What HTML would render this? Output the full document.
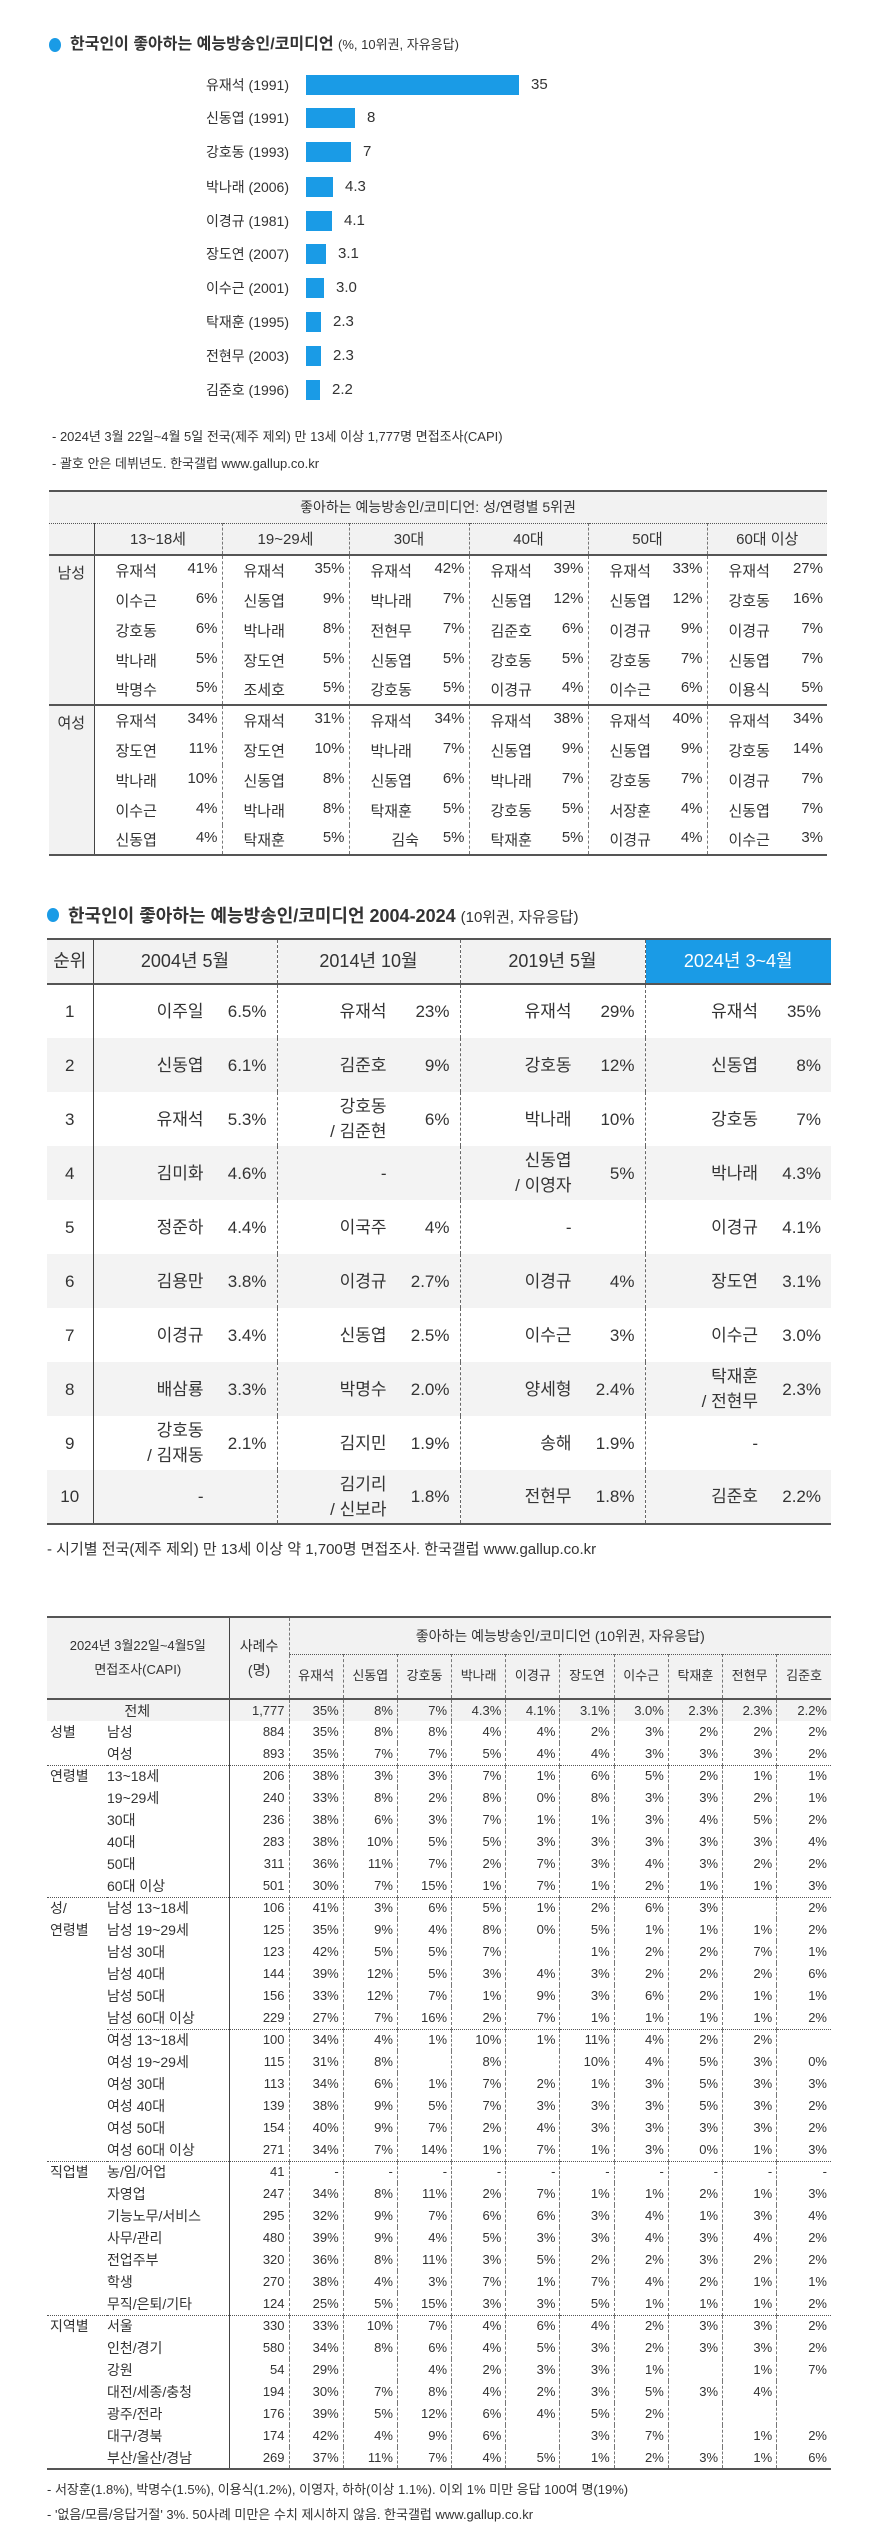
<!DOCTYPE html>
<html><head><meta charset="utf-8">
<style>
*{margin:0;padding:0;box-sizing:border-box}
body{width:876px;height:2547px;background:#fff;position:relative;font-family:"Liberation Sans","Noto Sans CJK KR",sans-serif;color:#333;overflow:hidden}
.a{position:absolute;white-space:nowrap}
.dot{position:absolute;width:12px;height:14px;border-radius:50%;background:#1a9be6}
.lbl{position:absolute;right:587px;font-size:14px;line-height:20px;text-align:right}
.bar{position:absolute;left:306px;height:20px;background:#1a9be6}
.val{position:absolute;font-size:15px;line-height:20px}
table{border-collapse:collapse;table-layout:fixed;position:absolute}
td{padding:0;white-space:nowrap}
/* table1 */
#t1{left:49px;top:490px;width:778px;font-size:15px;border-top:2px solid #555;border-bottom:2px solid #555}
#t1 td{border-left:1px dashed #777}
#t1 td.g{border-left:none;background:#f2f2f2;text-align:center;vertical-align:top;padding-top:6px}
#t1 tr.h td{background:#f2f2f2;text-align:center;height:32px;border-bottom:2px solid #555}
#t1 tr.ttl td{background:#f2f2f2;text-align:center;height:32px;font-size:14px;border-bottom:1px dotted #555;border-left:none}
#t1 td.c{height:30px}
#t1 td.c div{display:flex;justify-content:space-between;padding:0 4px 0 21px}
#t1 tr.sep td{border-top:2px solid #555}
#t1 td.f{border-left:1.5px solid #444}
/* table2 */
#t2{left:47px;top:938px;width:784px;font-size:17px;line-height:25px;border-top:2px solid #555;border-bottom:2px solid #555}
#t2 tr{height:54px}
#t2 td{border-left:1px dashed #666;height:54px;overflow:hidden}
#t2 td:first-child{border-left:none;text-align:center;width:46px}
#t2 td:nth-child(2){border-left:1.5px solid #444}
#t2 tr.h{height:45px}
#t2 tr.h td{background:#f2f2f2;height:45px;text-align:center;border-bottom:2px solid #555;font-size:18px}
#t2 tr.h td.b{background:#1a9be6;color:#fff}
#t2 tr.z td{background:#f3f3f3}
#t2 .n{display:flex;align-items:center}
#t2 .n span:first-child{flex:1;text-align:right;line-height:25px}
#t2 .n span:last-child{width:73px;text-align:right;padding-right:10px}
/* table3 */
#t3{left:47px;top:1616px;width:784px;font-size:13px;line-height:18px;border-top:2px solid #555;border-bottom:2px solid #555}
#t3 tr{height:22px}
#t3 td{height:22px;text-align:right;padding-right:4px;border-left:1px dashed #777}
#t3 td.gl{border-left:none;text-align:left;padding-left:3px;font-size:14px}
#t3 td.sl{border-left:none;text-align:left;padding-left:0;font-size:14px}
#t3 td.n{border-left:1.5px solid #444}
#t3 tr.hd td{background:#f2f2f2;text-align:center;padding:0}
#t3 tr.tot td{background:#f2f2f2;height:22px}
#t3 tr.s td{border-bottom:1px dotted #555}
#t3 tr.s2 td.x{border-bottom:1px dotted #555}
.note{font-size:13px}
</style></head><body>

<div class="dot" style="left:49px;top:38px"></div>
<div class="a" style="left:70px;top:35px;font-size:16px;line-height:20px"><b>한국인이 좋아하는 예능방송인/코미디언</b> <span style="font-size:13px">(%, 10위권, 자유응답)</span></div>

<div class="lbl" style="top:75px">유재석 (1991)</div><div class="bar" style="top:75px;width:213px"></div><div class="val" style="left:531px;top:75px">35</div>
<div class="lbl" style="top:108px">신동엽 (1991)</div><div class="bar" style="top:108px;width:49px"></div><div class="val" style="left:367px;top:108px">8</div>
<div class="lbl" style="top:142px">강호동 (1993)</div><div class="bar" style="top:142px;width:45px"></div><div class="val" style="left:363px;top:142px">7</div>
<div class="lbl" style="top:177px">박나래 (2006)</div><div class="bar" style="top:177px;width:27px"></div><div class="val" style="left:345px;top:177px">4.3</div>
<div class="lbl" style="top:211px">이경규 (1981)</div><div class="bar" style="top:211px;width:26px"></div><div class="val" style="left:344px;top:211px">4.1</div>
<div class="lbl" style="top:244px">장도연 (2007)</div><div class="bar" style="top:244px;width:20px"></div><div class="val" style="left:338px;top:244px">3.1</div>
<div class="lbl" style="top:278px">이수근 (2001)</div><div class="bar" style="top:278px;width:18px"></div><div class="val" style="left:336px;top:278px">3.0</div>
<div class="lbl" style="top:312px">탁재훈 (1995)</div><div class="bar" style="top:312px;width:15px"></div><div class="val" style="left:333px;top:312px">2.3</div>
<div class="lbl" style="top:346px">전현무 (2003)</div><div class="bar" style="top:346px;width:15px"></div><div class="val" style="left:333px;top:346px">2.3</div>
<div class="lbl" style="top:380px">김준호 (1996)</div><div class="bar" style="top:380px;width:14px"></div><div class="val" style="left:332px;top:380px">2.2</div>

<div class="a note" style="left:52px;top:426px">- 2024년 3월 22일~4월 5일 전국(제주 제외) 만 13세 이상 1,777명 면접조사(CAPI)</div>
<div class="a note" style="left:52px;top:453px">- 괄호 안은 데뷔년도. 한국갤럽 www.gallup.co.kr</div>

<table id="t1">
<colgroup><col style="width:45px"><col style="width:128px"><col style="width:127px"><col style="width:120px"><col style="width:119px"><col style="width:119px"><col style="width:120px"></colgroup>
<tr class="ttl"><td colspan="7">좋아하는 예능방송인/코미디언: 성/연령별 5위권</td></tr>
<tr class="h"><td style="border-left:none"></td><td class="f">13~18세</td><td>19~29세</td><td>30대</td><td>40대</td><td>50대</td><td>60대 이상</td></tr>
<tr><td class="g" rowspan="5">남성</td><td class="c f"><div><span>유재석</span><span>41%</span></div></td><td class="c"><div><span>유재석</span><span>35%</span></div></td><td class="c"><div><span>유재석</span><span>42%</span></div></td><td class="c"><div><span>유재석</span><span>39%</span></div></td><td class="c"><div><span>유재석</span><span>33%</span></div></td><td class="c"><div><span>유재석</span><span>27%</span></div></td></tr>
<tr><td class="c f"><div><span>이수근</span><span>6%</span></div></td><td class="c"><div><span>신동엽</span><span>9%</span></div></td><td class="c"><div><span>박나래</span><span>7%</span></div></td><td class="c"><div><span>신동엽</span><span>12%</span></div></td><td class="c"><div><span>신동엽</span><span>12%</span></div></td><td class="c"><div><span>강호동</span><span>16%</span></div></td></tr>
<tr><td class="c f"><div><span>강호동</span><span>6%</span></div></td><td class="c"><div><span>박나래</span><span>8%</span></div></td><td class="c"><div><span>전현무</span><span>7%</span></div></td><td class="c"><div><span>김준호</span><span>6%</span></div></td><td class="c"><div><span>이경규</span><span>9%</span></div></td><td class="c"><div><span>이경규</span><span>7%</span></div></td></tr>
<tr><td class="c f"><div><span>박나래</span><span>5%</span></div></td><td class="c"><div><span>장도연</span><span>5%</span></div></td><td class="c"><div><span>신동엽</span><span>5%</span></div></td><td class="c"><div><span>강호동</span><span>5%</span></div></td><td class="c"><div><span>강호동</span><span>7%</span></div></td><td class="c"><div><span>신동엽</span><span>7%</span></div></td></tr>
<tr><td class="c f"><div><span>박명수</span><span>5%</span></div></td><td class="c"><div><span>조세호</span><span>5%</span></div></td><td class="c"><div><span>강호동</span><span>5%</span></div></td><td class="c"><div><span>이경규</span><span>4%</span></div></td><td class="c"><div><span>이수근</span><span>6%</span></div></td><td class="c"><div><span>이용식</span><span>5%</span></div></td></tr>
<tr class="sep"><td class="g" rowspan="5">여성</td><td class="c f"><div><span>유재석</span><span>34%</span></div></td><td class="c"><div><span>유재석</span><span>31%</span></div></td><td class="c"><div><span>유재석</span><span>34%</span></div></td><td class="c"><div><span>유재석</span><span>38%</span></div></td><td class="c"><div><span>유재석</span><span>40%</span></div></td><td class="c"><div><span>유재석</span><span>34%</span></div></td></tr>
<tr><td class="c f"><div><span>장도연</span><span>11%</span></div></td><td class="c"><div><span>장도연</span><span>10%</span></div></td><td class="c"><div><span>박나래</span><span>7%</span></div></td><td class="c"><div><span>신동엽</span><span>9%</span></div></td><td class="c"><div><span>신동엽</span><span>9%</span></div></td><td class="c"><div><span>강호동</span><span>14%</span></div></td></tr>
<tr><td class="c f"><div><span>박나래</span><span>10%</span></div></td><td class="c"><div><span>신동엽</span><span>8%</span></div></td><td class="c"><div><span>신동엽</span><span>6%</span></div></td><td class="c"><div><span>박나래</span><span>7%</span></div></td><td class="c"><div><span>강호동</span><span>7%</span></div></td><td class="c"><div><span>이경규</span><span>7%</span></div></td></tr>
<tr><td class="c f"><div><span>이수근</span><span>4%</span></div></td><td class="c"><div><span>박나래</span><span>8%</span></div></td><td class="c"><div><span>탁재훈</span><span>5%</span></div></td><td class="c"><div><span>강호동</span><span>5%</span></div></td><td class="c"><div><span>서장훈</span><span>4%</span></div></td><td class="c"><div><span>신동엽</span><span>7%</span></div></td></tr>
<tr><td class="c f"><div><span>신동엽</span><span>4%</span></div></td><td class="c"><div><span>탁재훈</span><span>5%</span></div></td><td class="c"><div><span>&nbsp;&nbsp;&nbsp;&nbsp;&nbsp;김숙</span><span>5%</span></div></td><td class="c"><div><span>탁재훈</span><span>5%</span></div></td><td class="c"><div><span>이경규</span><span>4%</span></div></td><td class="c"><div><span>이수근</span><span>3%</span></div></td></tr>
</table>

<div class="dot" style="left:47px;top:908px"></div>
<div class="a" style="left:68px;top:904px;font-size:18px;line-height:24px"><b>한국인이 좋아하는 예능방송인/코미디언 2004-2024</b> <span style="font-size:15px">(10위권, 자유응답)</span></div>

<table id="t2">
<colgroup><col style="width:46px"><col style="width:184px"><col style="width:183px"><col style="width:185px"><col style="width:186px"></colgroup>
<tr class="h"><td>순위</td><td>2004년 5월</td><td>2014년 10월</td><td>2019년 5월</td><td class="b">2024년 3~4월</td></tr>
<tr><td>1</td><td><div class="n"><span>이주일</span><span>6.5%</span></div></td><td><div class="n"><span>유재석</span><span>23%</span></div></td><td><div class="n"><span>유재석</span><span>29%</span></div></td><td><div class="n"><span>유재석</span><span>35%</span></div></td></tr>
<tr class="z"><td>2</td><td><div class="n"><span>신동엽</span><span>6.1%</span></div></td><td><div class="n"><span>김준호</span><span>9%</span></div></td><td><div class="n"><span>강호동</span><span>12%</span></div></td><td><div class="n"><span>신동엽</span><span>8%</span></div></td></tr>
<tr><td>3</td><td><div class="n"><span>유재석</span><span>5.3%</span></div></td><td><div class="n"><span>강호동<br>/ 김준현</span><span>6%</span></div></td><td><div class="n"><span>박나래</span><span>10%</span></div></td><td><div class="n"><span>강호동</span><span>7%</span></div></td></tr>
<tr class="z"><td>4</td><td><div class="n"><span>김미화</span><span>4.6%</span></div></td><td><div class="n"><span>-</span><span></span></div></td><td><div class="n"><span>신동엽<br>/ 이영자</span><span>5%</span></div></td><td><div class="n"><span>박나래</span><span>4.3%</span></div></td></tr>
<tr><td>5</td><td><div class="n"><span>정준하</span><span>4.4%</span></div></td><td><div class="n"><span>이국주</span><span>4%</span></div></td><td><div class="n"><span>-</span><span></span></div></td><td><div class="n"><span>이경규</span><span>4.1%</span></div></td></tr>
<tr class="z"><td>6</td><td><div class="n"><span>김용만</span><span>3.8%</span></div></td><td><div class="n"><span>이경규</span><span>2.7%</span></div></td><td><div class="n"><span>이경규</span><span>4%</span></div></td><td><div class="n"><span>장도연</span><span>3.1%</span></div></td></tr>
<tr><td>7</td><td><div class="n"><span>이경규</span><span>3.4%</span></div></td><td><div class="n"><span>신동엽</span><span>2.5%</span></div></td><td><div class="n"><span>이수근</span><span>3%</span></div></td><td><div class="n"><span>이수근</span><span>3.0%</span></div></td></tr>
<tr class="z"><td>8</td><td><div class="n"><span>배삼룡</span><span>3.3%</span></div></td><td><div class="n"><span>박명수</span><span>2.0%</span></div></td><td><div class="n"><span>양세형</span><span>2.4%</span></div></td><td><div class="n"><span>탁재훈<br>/ 전현무</span><span>2.3%</span></div></td></tr>
<tr><td>9</td><td><div class="n"><span>강호동<br>/ 김재동</span><span>2.1%</span></div></td><td><div class="n"><span>김지민</span><span>1.9%</span></div></td><td><div class="n"><span>송해</span><span>1.9%</span></div></td><td><div class="n"><span>-</span><span></span></div></td></tr>
<tr class="z"><td>10</td><td><div class="n"><span>-</span><span></span></div></td><td><div class="n"><span>김기리<br>/ 신보라</span><span>1.8%</span></div></td><td><div class="n"><span>전현무</span><span>1.8%</span></div></td><td><div class="n"><span>김준호</span><span>2.2%</span></div></td></tr>
</table>

<div class="a" style="left:47px;top:1538px;font-size:15px">- 시기별 전국(제주 제외) 만 13세 이상 약 1,700명 면접조사. 한국갤럽 www.gallup.co.kr</div>

<table id="t3">
<colgroup><col style="width:60px"><col style="width:122px"><col style="width:60px"><col span="10" style="width:54.2px"></colgroup>
<tr class="hd" style="height:37px"><td colspan="2" rowspan="2" class="gl" style="text-align:center;padding:0;line-height:24px;border-bottom:2px solid #555;font-size:13px">2024년 3월22일~4월5일<br>면접조사(CAPI)</td><td rowspan="2" class="n" style="line-height:24px;border-bottom:2px solid #555;font-size:14px">사례수<br>(명)</td><td colspan="10" style="height:37px;border-bottom:1px dotted #555;font-size:14px">좋아하는 예능방송인/코미디언 (10위권, 자유응답)</td></tr>
<tr class="hd" style="border-bottom:2px solid #555;height:45px"><td style="height:45px">유재석</td><td>신동엽</td><td>강호동</td><td>박나래</td><td>이경규</td><td>장도연</td><td>이수근</td><td>탁재훈</td><td>전현무</td><td>김준호</td></tr>
<tr class="tot"><td colspan="2" class="gl" style="text-align:center">전체</td><td class="n">1,777</td><td>35%</td><td>8%</td><td>7%</td><td>4.3%</td><td>4.1%</td><td>3.1%</td><td>3.0%</td><td>2.3%</td><td>2.3%</td><td>2.2%</td></tr>
<tr><td class="gl">성별</td><td class="sl">남성</td><td class="n">884</td><td>35%</td><td>8%</td><td>8%</td><td>4%</td><td>4%</td><td>2%</td><td>3%</td><td>2%</td><td>2%</td><td>2%</td></tr>
<tr class="s"><td class="gl"></td><td class="sl">여성</td><td class="n">893</td><td>35%</td><td>7%</td><td>7%</td><td>5%</td><td>4%</td><td>4%</td><td>3%</td><td>3%</td><td>3%</td><td>2%</td></tr>
<tr><td class="gl">연령별</td><td class="sl">13~18세</td><td class="n">206</td><td>38%</td><td>3%</td><td>3%</td><td>7%</td><td>1%</td><td>6%</td><td>5%</td><td>2%</td><td>1%</td><td>1%</td></tr>
<tr><td class="gl"></td><td class="sl">19~29세</td><td class="n">240</td><td>33%</td><td>8%</td><td>2%</td><td>8%</td><td>0%</td><td>8%</td><td>3%</td><td>3%</td><td>2%</td><td>1%</td></tr>
<tr><td class="gl"></td><td class="sl">30대</td><td class="n">236</td><td>38%</td><td>6%</td><td>3%</td><td>7%</td><td>1%</td><td>1%</td><td>3%</td><td>4%</td><td>5%</td><td>2%</td></tr>
<tr><td class="gl"></td><td class="sl">40대</td><td class="n">283</td><td>38%</td><td>10%</td><td>5%</td><td>5%</td><td>3%</td><td>3%</td><td>3%</td><td>3%</td><td>3%</td><td>4%</td></tr>
<tr><td class="gl"></td><td class="sl">50대</td><td class="n">311</td><td>36%</td><td>11%</td><td>7%</td><td>2%</td><td>7%</td><td>3%</td><td>4%</td><td>3%</td><td>2%</td><td>2%</td></tr>
<tr class="s"><td class="gl"></td><td class="sl">60대 이상</td><td class="n">501</td><td>30%</td><td>7%</td><td>15%</td><td>1%</td><td>7%</td><td>1%</td><td>2%</td><td>1%</td><td>1%</td><td>3%</td></tr>
<tr><td class="gl">성/</td><td class="sl">남성 13~18세</td><td class="n">106</td><td>41%</td><td>3%</td><td>6%</td><td>5%</td><td>1%</td><td>2%</td><td>6%</td><td>3%</td><td></td><td>2%</td></tr>
<tr><td class="gl">연령별</td><td class="sl">남성 19~29세</td><td class="n">125</td><td>35%</td><td>9%</td><td>4%</td><td>8%</td><td>0%</td><td>5%</td><td>1%</td><td>1%</td><td>1%</td><td>2%</td></tr>
<tr><td class="gl"></td><td class="sl">남성 30대</td><td class="n">123</td><td>42%</td><td>5%</td><td>5%</td><td>7%</td><td></td><td>1%</td><td>2%</td><td>2%</td><td>7%</td><td>1%</td></tr>
<tr><td class="gl"></td><td class="sl">남성 40대</td><td class="n">144</td><td>39%</td><td>12%</td><td>5%</td><td>3%</td><td>4%</td><td>3%</td><td>2%</td><td>2%</td><td>2%</td><td>6%</td></tr>
<tr><td class="gl"></td><td class="sl">남성 50대</td><td class="n">156</td><td>33%</td><td>12%</td><td>7%</td><td>1%</td><td>9%</td><td>3%</td><td>6%</td><td>2%</td><td>1%</td><td>1%</td></tr>
<tr class="s2"><td class="gl"></td><td class="sl x">남성 60대 이상</td><td class="n x">229</td><td class="x">27%</td><td class="x">7%</td><td class="x">16%</td><td class="x">2%</td><td class="x">7%</td><td class="x">1%</td><td class="x">1%</td><td class="x">1%</td><td class="x">1%</td><td class="x">2%</td></tr>
<tr><td class="gl"></td><td class="sl">여성 13~18세</td><td class="n">100</td><td>34%</td><td>4%</td><td>1%</td><td>10%</td><td>1%</td><td>11%</td><td>4%</td><td>2%</td><td>2%</td><td></td></tr>
<tr><td class="gl"></td><td class="sl">여성 19~29세</td><td class="n">115</td><td>31%</td><td>8%</td><td></td><td>8%</td><td></td><td>10%</td><td>4%</td><td>5%</td><td>3%</td><td>0%</td></tr>
<tr><td class="gl"></td><td class="sl">여성 30대</td><td class="n">113</td><td>34%</td><td>6%</td><td>1%</td><td>7%</td><td>2%</td><td>1%</td><td>3%</td><td>5%</td><td>3%</td><td>3%</td></tr>
<tr><td class="gl"></td><td class="sl">여성 40대</td><td class="n">139</td><td>38%</td><td>9%</td><td>5%</td><td>7%</td><td>3%</td><td>3%</td><td>3%</td><td>5%</td><td>3%</td><td>2%</td></tr>
<tr><td class="gl"></td><td class="sl">여성 50대</td><td class="n">154</td><td>40%</td><td>9%</td><td>7%</td><td>2%</td><td>4%</td><td>3%</td><td>3%</td><td>3%</td><td>3%</td><td>2%</td></tr>
<tr class="s"><td class="gl"></td><td class="sl">여성 60대 이상</td><td class="n">271</td><td>34%</td><td>7%</td><td>14%</td><td>1%</td><td>7%</td><td>1%</td><td>3%</td><td>0%</td><td>1%</td><td>3%</td></tr>
<tr><td class="gl">직업별</td><td class="sl">농/임/어업</td><td class="n">41</td><td>-</td><td>-</td><td>-</td><td>-</td><td>-</td><td>-</td><td>-</td><td>-</td><td>-</td><td>-</td></tr>
<tr><td class="gl"></td><td class="sl">자영업</td><td class="n">247</td><td>34%</td><td>8%</td><td>11%</td><td>2%</td><td>7%</td><td>1%</td><td>1%</td><td>2%</td><td>1%</td><td>3%</td></tr>
<tr><td class="gl"></td><td class="sl">기능노무/서비스</td><td class="n">295</td><td>32%</td><td>9%</td><td>7%</td><td>6%</td><td>6%</td><td>3%</td><td>4%</td><td>1%</td><td>3%</td><td>4%</td></tr>
<tr><td class="gl"></td><td class="sl">사무/관리</td><td class="n">480</td><td>39%</td><td>9%</td><td>4%</td><td>5%</td><td>3%</td><td>3%</td><td>4%</td><td>3%</td><td>4%</td><td>2%</td></tr>
<tr><td class="gl"></td><td class="sl">전업주부</td><td class="n">320</td><td>36%</td><td>8%</td><td>11%</td><td>3%</td><td>5%</td><td>2%</td><td>2%</td><td>3%</td><td>2%</td><td>2%</td></tr>
<tr><td class="gl"></td><td class="sl">학생</td><td class="n">270</td><td>38%</td><td>4%</td><td>3%</td><td>7%</td><td>1%</td><td>7%</td><td>4%</td><td>2%</td><td>1%</td><td>1%</td></tr>
<tr class="s"><td class="gl"></td><td class="sl">무직/은퇴/기타</td><td class="n">124</td><td>25%</td><td>5%</td><td>15%</td><td>3%</td><td>3%</td><td>5%</td><td>1%</td><td>1%</td><td>1%</td><td>2%</td></tr>
<tr><td class="gl">지역별</td><td class="sl">서울</td><td class="n">330</td><td>33%</td><td>10%</td><td>7%</td><td>4%</td><td>6%</td><td>4%</td><td>2%</td><td>3%</td><td>3%</td><td>2%</td></tr>
<tr><td class="gl"></td><td class="sl">인천/경기</td><td class="n">580</td><td>34%</td><td>8%</td><td>6%</td><td>4%</td><td>5%</td><td>3%</td><td>2%</td><td>3%</td><td>3%</td><td>2%</td></tr>
<tr><td class="gl"></td><td class="sl">강원</td><td class="n">54</td><td>29%</td><td></td><td>4%</td><td>2%</td><td>3%</td><td>3%</td><td>1%</td><td></td><td>1%</td><td>7%</td></tr>
<tr><td class="gl"></td><td class="sl">대전/세종/충청</td><td class="n">194</td><td>30%</td><td>7%</td><td>8%</td><td>4%</td><td>2%</td><td>3%</td><td>5%</td><td>3%</td><td>4%</td><td></td></tr>
<tr><td class="gl"></td><td class="sl">광주/전라</td><td class="n">176</td><td>39%</td><td>5%</td><td>12%</td><td>6%</td><td>4%</td><td>5%</td><td>2%</td><td></td><td></td><td></td></tr>
<tr><td class="gl"></td><td class="sl">대구/경북</td><td class="n">174</td><td>42%</td><td>4%</td><td>9%</td><td>6%</td><td></td><td>3%</td><td>7%</td><td></td><td>1%</td><td>2%</td></tr>
<tr><td class="gl"></td><td class="sl">부산/울산/경남</td><td class="n">269</td><td>37%</td><td>11%</td><td>7%</td><td>4%</td><td>5%</td><td>1%</td><td>2%</td><td>3%</td><td>1%</td><td>6%</td></tr>
</table>

<div class="a note" style="left:47px;top:2479px">- 서장훈(1.8%), 박명수(1.5%), 이용식(1.2%), 이영자, 하하(이상 1.1%). 이외 1% 미만 응답 100여 명(19%)</div>
<div class="a note" style="left:47px;top:2504px">- '없음/모름/응답거절' 3%. 50사례 미만은 수치 제시하지 않음. 한국갤럽 www.gallup.co.kr</div>
</body></html>
